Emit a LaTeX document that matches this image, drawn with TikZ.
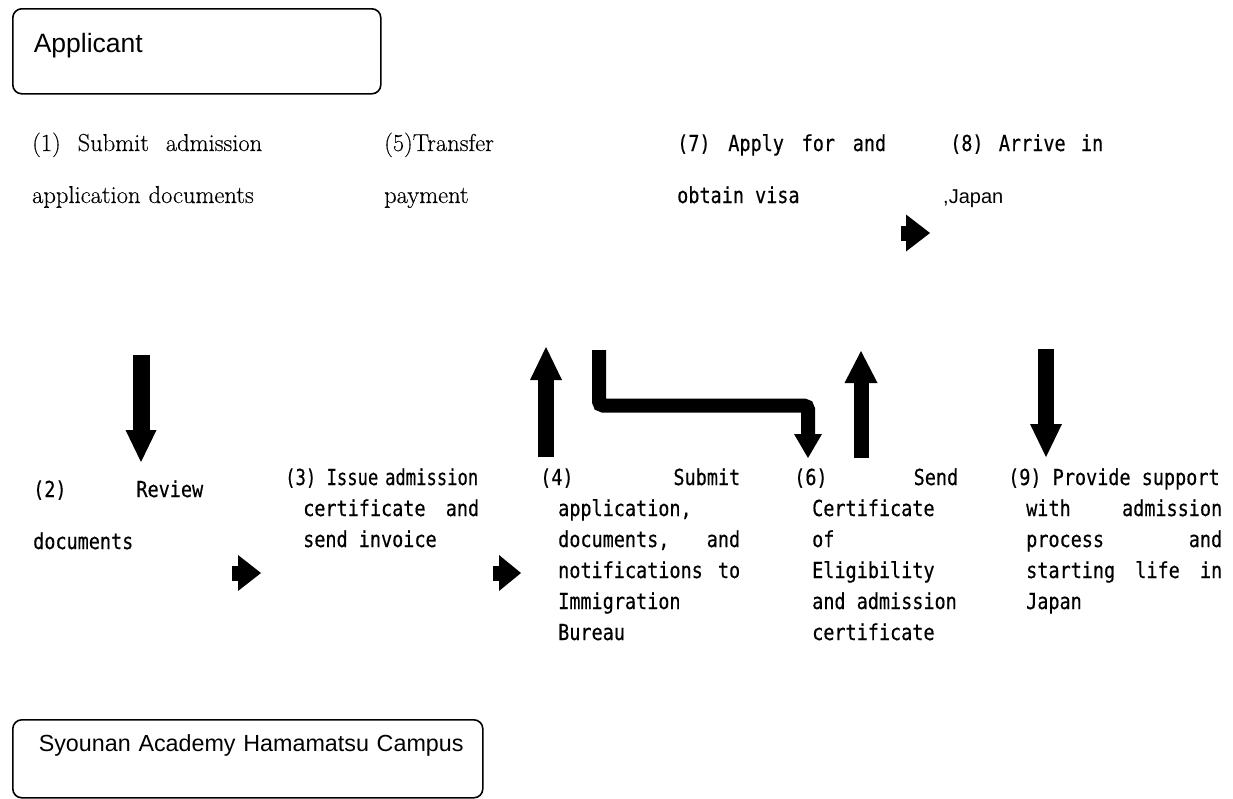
\documentclass[tikz,border=0pt]{standalone}
\usepackage{fontspec}
\usepackage{graphicx}
\usetikzlibrary{calc}
\newfontfamily\gothic[FakeStretch=0.84,FakeBold=0.4]{DejaVu Sans Mono}
\newfontfamily\arialf{Liberation Sans}
\newfontfamily\serifr[FakeBold=0.3]{Latin Modern Roman}
\newcommand\gothicsel[1]{\gothic\fontsize{22}{#1}\selectfont}
\newcommand\gs{\hphantom{x}}
\newcommand\myind{\hspace*{18pt}}
\newcommand\jl[2]{\makebox[#1][l]{#2}}
\begin{document}
\begin{tikzpicture}[x=1pt,y=-1pt,
  box/.style={draw, line width=1.6pt, rounded corners=9pt, inner sep=0pt, anchor=north west, align=left},
  serif/.style={anchor=base west, inner sep=0pt, align=left, text width=250pt, font=\serifr\fontsize{24.5}{52}\selectfont},
  goth/.style={anchor=base west, inner sep=0pt, align=left, text width=215pt, font=\gothicsel{31}},
  gothwide/.style={goth, font=\gothicsel{52}},
  shaft/.style={line width=#1, line cap=butt},
  head/.style={fill=black}]
\useasboundingbox (0,0) rectangle (1233,798);

% boxes
\node[box, text width=368pt, text height=44pt, text depth=41pt, font=\arialf\fontsize{26.5}{30}\selectfont] (applicant) at (12,8) {\hspace*{21pt}Applicant};
\node[box, text width=470pt, text height=32pt, text depth=46pt, font=\arialf\fontsize{23.3}{28}\selectfont] (campus) at (12,719) {\hspace*{26pt}Syounan Academy Hamamatsu Campus};

% top texts
\node[serif] (t1) at (32,151) {\jl{230pt}{(1)\hfill Submit\hfill admission}\\application documents};
\node[serif, text width=150pt] (t5) at (384,151) {(5)Transfer\\payment};
\node[gothwide] (t7) at (677,151) {\jl{209pt}{(7)\hfill Apply\hfill for\hfill and}\\obtain\gs visa};
\node[gothwide, text width=170pt] (t8) at (950,151) {\jl{153pt}{(8)\hfill Arrive\hfill in}\\\hspace*{-7pt}{\arialf\fontsize{20}{52}\selectfont ,Japan}};

% bottom texts
\node[gothwide] (t2) at (33,497) {\jl{170pt}{(2)\hfill Review}\\documents};
\node[goth] (t3) at (285,485) {\scalebox{0.93}[1]{(3)\gs Issue admission}\\\myind\jl{176pt}{certificate\hfill and}\\\myind send\gs invoice};
\node[goth] (t4) at (540,485) {\jl{200pt}{(4)\hfill Submit}\\\myind application,\\\myind\jl{182pt}{documents,\hfill and}\\\myind\jl{182pt}{notifications\hfill to}\\\myind Immigration\\\myind Bureau};
\node[goth, text width=185pt] (t6) at (794,485) {\jl{164pt}{(6)\hfill Send}\\\myind Certificate\\\myind of\\\myind Eligibility\\\myind and\gs admission\\\myind certificate};
\node[goth] (t9) at (1008,485) {(9)\gs Provide\gs support\\\myind\jl{196pt}{with\hfill admission}\\\myind\jl{196pt}{process\hfill and}\\\myind\jl{196pt}{starting\hfill life\hfill in}\\\myind Japan};

% arrow coordinates
\coordinate (a1s) at (141,355);   \coordinate (a1t) at (141,462);
\coordinate (a4s) at (546,457);   \coordinate (a4t) at (546,347);
\coordinate (l0)  at (599,350);   \coordinate (l1) at (599,405.5);
\coordinate (l2)  at (808,405.5); \coordinate (lt) at (808,458);
\coordinate (a6s) at (861,458);   \coordinate (a6t) at (861,351);
\coordinate (a8s) at (1046,349);  \coordinate (a8t) at (1046,457);
\coordinate (s1s) at (232,573);   \coordinate (s1t) at (261,573);
\coordinate (s2s) at (493,573);   \coordinate (s2t) at (521,573);
\coordinate (s3s) at (901,233);   \coordinate (s3t) at (930,233);

% (1) -> (2)
\draw[shaft=17pt] (a1s) -- ($(a1t)+(0,-31)$);
\fill[head] (a1t) -- ++(-15.5,-32) -- ++(31,0) -- cycle;
% (4) -> (5)
\draw[shaft=16pt] (a4s) -- ($(a4t)+(0,32)$);
\fill[head] (a4t) -- ++(-16,33) -- ++(32,0) -- cycle;
% (5) -> (6)
\draw[shaft=14pt, rounded corners=4pt] (l0) -- (l1) -- (l2) -- ($(lt)+(0,-23)$);
\fill[head] (lt) -- ++(-14,-24) -- ++(28,0) -- cycle;
% (6) -> (7)
\draw[shaft=15pt] (a6s) -- ($(a6t)+(0,31)$);
\fill[head] (a6t) -- ++(-16.5,32) -- ++(33,0) -- cycle;
% (8) -> (9)
\draw[shaft=16pt] (a8s) -- ($(a8t)+(0,-32)$);
\fill[head] (a8t) -- ++(-16,-33) -- ++(32,0) -- cycle;
% small arrows
\draw[shaft=15pt] (s1s) -- ($(s1t)+(-22,0)$);
\fill[head] (s1t) -- ++(-23,-18) -- ++(0,36) -- cycle;
\draw[shaft=15pt] (s2s) -- ($(s2t)+(-21,0)$);
\fill[head] (s2t) -- ++(-22,-18) -- ++(0,36) -- cycle;
\draw[shaft=15pt] (s3s) -- ($(s3t)+(-23,0)$);
\fill[head] (s3t) -- ++(-24,-18.5) -- ++(0,37) -- cycle;
\end{tikzpicture}
\end{document}
